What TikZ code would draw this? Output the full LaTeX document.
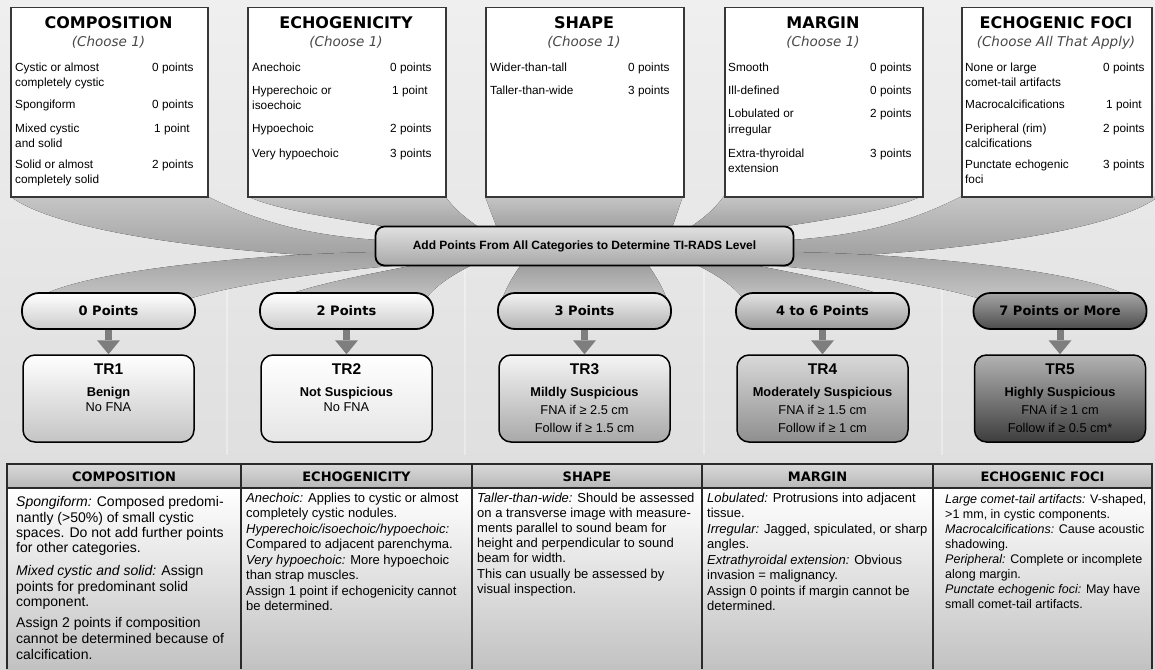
\documentclass[tikz,border=0pt]{standalone}
\usepackage{fontspec}
\setmainfont{Liberation Sans}
\newfontfamily\dvs{DejaVu Sans}
\usetikzlibrary{arrows.meta}
\definecolor{bgA}{HTML}{EFEFEF}
\definecolor{bgB}{HTML}{D8D8D8}
\definecolor{bandA}{HTML}{C6C6C6}
\definecolor{bandB}{HTML}{A0A0A0}
\definecolor{arrg}{HTML}{7E7E7E}
\definecolor{chzc}{HTML}{484848}
\definecolor{lineC}{HTML}{2A2A2A}
\begin{document}
\begin{tikzpicture}[x=1pt,y=-1pt,
  topbox/.style={draw=black!78, line width=1.5pt, fill=white, anchor=north west, inner sep=0, minimum height=189pt},
  ttl/.style={font=\dvs\bfseries\fontsize{16}{18}\selectfont, anchor=base, inner sep=0},
  chz/.style={font=\dvs\itshape\fontsize{13.5}{16}\selectfont, anchor=base, inner sep=0, text=chzc},
  row/.style={font=\fontsize{11.8}{14}\selectfont, anchor=base west, inner sep=0},
  topband/.style={top color=bandA, bottom color=bandB, draw=none},
  botband/.style={top color=bandB, bottom color=bandA, draw=none},
  pill/.style={draw=black, line width=1.8pt, rounded corners=17pt, minimum width=173pt, minimum height=36pt, inner sep=0, font=\dvs\bfseries\fontsize{13}{15}\selectfont},
  trbox/.style={draw=black, line width=1.5pt, rounded corners=12pt, minimum width=171pt, minimum height=87pt, inner sep=0},
  trt/.style={font=\bfseries\fontsize{15.5}{18}\selectfont, anchor=base, inner sep=0},
  trs/.style={font=\bfseries\fontsize{12.8}{15}\selectfont, anchor=base, inner sep=0},
  trn/.style={font=\fontsize{12.8}{15}\selectfont, anchor=base, inner sep=0},
  arr/.style={draw=arrg, line width=7pt, -{Triangle[width=23pt,length=14pt,line width=0pt]}},
  hdr/.style={font=\dvs\bfseries\fontsize{13}{15}\selectfont, anchor=base, inner sep=0},
  tA/.style={font=\fontsize{14}{16}\selectfont, anchor=base west, inner sep=0},
  tB/.style={font=\fontsize{13}{15}\selectfont, anchor=base west, inner sep=0},
  tC/.style={font=\fontsize{12.5}{15}\selectfont, anchor=base west, inner sep=0},
]
\useasboundingbox (0,0) rectangle (1155,669);
% background
\fill[top color=bgA, bottom color=bgB] (0,0) rectangle (1155,669);
\foreach \vx in {227,465,704,942}
  \draw[white, opacity=0.35, line width=1.2pt] (\vx,270) -- (\vx,455);

% bands from top boxes to middle box
\fill[topband] (10,196) -- (207,196) .. controls (265,226) and (320,236) .. (378,240) -- (378,258) .. controls (260,256) and (60,236) .. (10,196) -- cycle;
\fill[topband] (247,196) -- (445,196) .. controls (455,210) and (468,220) .. (480,228) -- (395,228) .. controls (345,220) and (275,210) .. (247,196) -- cycle;
\fill[topband] (485,196) -- (683,196) .. controls (678,210) and (675,220) .. (672,228) -- (497,228) .. controls (494,220) and (490,210) .. (485,196) -- cycle;
\fill[topband] (922,196) -- (724,196) .. controls (714,210) and (701,220) .. (689,228) -- (774,228) .. controls (824,220) and (894,210) .. (922,196) -- cycle;
\fill[topband] (1159,196) -- (962,196) .. controls (904,226) and (849,236) .. (791,240) -- (791,258) .. controls (909,256) and (1109,236) .. (1159,196) -- cycle;
% bands from middle box to pills
\fill[botband] (378,252) .. controls (250,254) and (70,272) .. (35,300) -- (185,300) .. controls (235,284) and (330,271) .. (392,266) -- cycle;
\fill[botband] (410,266) .. controls (360,276) and (305,286) .. (275,300) -- (425,300) .. controls (433,288) and (450,276) .. (470,266) -- cycle;
\fill[botband] (520,266) .. controls (512,278) and (505,290) .. (502,300) -- (667,300) .. controls (664,290) and (657,278) .. (649,266) -- cycle;
\fill[botband] (759,266) .. controls (809,276) and (864,286) .. (894,300) -- (744,300) .. controls (736,288) and (719,276) .. (699,266) -- cycle;
\fill[botband] (791,252) .. controls (919,254) and (1099,272) .. (1134,300) -- (984,300) .. controls (934,284) and (839,271) .. (777,266) -- cycle;

% top boxes
\node[topbox, minimum width=197pt] (b1) at (10,7) {};
\node[topbox, minimum width=198pt] (b2) at (247,7) {};
\node[topbox, minimum width=198pt] (b3) at (485,7) {};
\node[topbox, minimum width=198pt] (b4) at (724,7) {};
\node[topbox, minimum width=190pt] (b5) at (961,7) {};

\node[ttl] (h1) at (108.5,29) {COMPOSITION};
\node[chz] (c1) at (108.5,46) {(Choose 1)};
\node[ttl] (h2) at (346,29) {ECHOGENICITY};
\node[chz] (c2) at (346,46) {(Choose 1)};
\node[ttl] (h3) at (584,29) {SHAPE};
\node[chz] (c3) at (584,46) {(Choose 1)};
\node[ttl] (h4) at (823,29) {MARGIN};
\node[chz] (c4) at (823,46) {(Choose 1)};
\node[ttl] (h5) at (1056,29) {ECHOGENIC FOCI};
\node[chz] (c5) at (1056,46) {(Choose All That Apply)};

\node[row] (a1) at (15,71) {Cystic or almost};
\node[row] (a2) at (15,86) {completely cystic};
\node[row] (a3) at (15,108) {Spongiform};
\node[row] (a4) at (15,132) {Mixed cystic};
\node[row] (a5) at (15,147) {and solid};
\node[row] (a6) at (15,168) {Solid or almost};
\node[row] (a7) at (15,183) {completely solid};
\node[row] (ap1) at (152,71) {0 points};
\node[row] (ap2) at (152,108) {0 points};
\node[row] (ap3) at (154,132) {1 point};
\node[row] (ap4) at (152,168) {2 points};

\node[row] (e1) at (252,71) {Anechoic};
\node[row] (e2) at (252,94) {Hyperechoic or};
\node[row] (e3) at (252,109) {isoechoic};
\node[row] (e4) at (252,132) {Hypoechoic};
\node[row] (e5) at (252,157) {Very hypoechoic};
\node[row] (ep1) at (390,71) {0 points};
\node[row] (ep2) at (392,94) {1 point};
\node[row] (ep3) at (390,132) {2 points};
\node[row] (ep4) at (390,157) {3 points};

\node[row] (s1) at (490,71) {Wider-than-tall};
\node[row] (s2) at (490,94) {Taller-than-wide};
\node[row] (sp1) at (628,71) {0 points};
\node[row] (sp2) at (628,94) {3 points};

\node[row] (m1) at (728,71) {Smooth};
\node[row] (m2) at (728,94) {Ill-defined};
\node[row] (m3) at (728,117) {Lobulated or};
\node[row] (m4) at (728,133) {irregular};
\node[row] (m5) at (728,157) {Extra-thyroidal};
\node[row] (m6) at (728,172) {extension};
\node[row] (mp1) at (870,71) {0 points};
\node[row] (mp2) at (870,94) {0 points};
\node[row] (mp3) at (870,117) {2 points};
\node[row] (mp4) at (870,157) {3 points};

\node[row] (f1) at (965,71) {None or large};
\node[row] (f2) at (965,86) {comet-tail artifacts};
\node[row] (f3) at (965,108) {Macrocalcifications};
\node[row] (f4) at (965,132) {Peripheral (rim)};
\node[row] (f5) at (965,147) {calcifications};
\node[row] (f6) at (965,168) {Punctate echogenic};
\node[row] (f7) at (965,183) {foci};
\node[row] (fp1) at (1103,71) {0 points};
\node[row] (fp2) at (1106,108) {1 point};
\node[row] (fp3) at (1103,132) {2 points};
\node[row] (fp4) at (1103,168) {3 points};

% middle box
\node[draw=black, line width=1.8pt, rounded corners=9pt, minimum width=418pt, minimum height=39pt, inner sep=0,
      top color=white!88!black, bottom color=white!66!black, font=\bfseries\fontsize{12}{14}\selectfont] (mid) at (584.5,246) {Add Points From All Categories to Determine TI-RADS Level};

% pills
\node[pill, top color=white, bottom color=white!80!black] (p1) at (108.5,311) {0 Points};
\node[pill, top color=white, bottom color=white!80!black] (p2) at (346.5,311) {2 Points};
\node[pill, top color=white!95!black, bottom color=white!70!black] (p3) at (584.5,311) {3 Points};
\node[pill, top color=white!89!black, bottom color=white!60!black] (p4) at (822.5,311) {4 to 6 Points};
\node[pill, top color=white!65!black, bottom color=white!30!black] (p5) at (1060,311) {7 Points or More};

% TR boxes
\node[trbox, top color=white, bottom color=white!77!black] (t1) at (108.5,398.5) {};
\node[trbox, top color=white, bottom color=white!90!black] (t2) at (346.5,398.5) {};
\node[trbox, top color=white!96!black, bottom color=white!66!black] (t3) at (584.5,398.5) {};
\node[trbox, top color=white!85!black, bottom color=white!56!black] (t4) at (822.5,398.5) {};
\node[trbox, top color=white!70!black, bottom color=white!24!black] (t5) at (1060,398.5) {};

% arrows
\draw[arr] (p1.south) -- (t1.north);
\draw[arr] (p2.south) -- (t2.north);
\draw[arr] (p3.south) -- (t3.north);
\draw[arr] (p4.south) -- (t4.north);
\draw[arr] (p5.south) -- (t5.north);

\node[trt] (t1a) at (108.5,374.5) {TR1};
\node[trs] (t1b) at (108.5,396.5) {Benign};
\node[trn] (t1c) at (108.5,411) {No FNA};
\node[trt] (t2a) at (346.5,374.5) {TR2};
\node[trs] (t2b) at (346.5,396.5) {Not Suspicious};
\node[trn] (t2c) at (346.5,411) {No FNA};
\node[trt] (t3a) at (584.5,374.5) {TR3};
\node[trs] (t3b) at (584.5,396.5) {Mildly Suspicious};
\node[trn] (t3c) at (584.5,414.5) {FNA if ≥ 2.5 cm};
\node[trn] (t3d) at (584.5,432) {Follow if ≥ 1.5 cm};
\node[trt] (t4a) at (822.5,374.5) {TR4};
\node[trs] (t4b) at (822.5,396.5) {Moderately Suspicious};
\node[trn] (t4c) at (822.5,414.5) {FNA if ≥ 1.5 cm};
\node[trn] (t4d) at (822.5,432) {Follow if ≥ 1 cm};
\node[trt] (t5a) at (1060,374.5) {TR5};
\node[trs] (t5b) at (1060,396.5) {Highly Suspicious};
\node[trn] (t5c) at (1060,414.5) {FNA if ≥ 1 cm};
\node[trn] (t5d) at (1060,432) {Follow if ≥ 0.5 cm*};

% bottom table
\fill[top color=white!85!black, bottom color=white!72!black] (7,464) rectangle (1152,488);
\fill[top color=white, middle color=white!97!black, bottom color=white!76!black] (7,488) rectangle (1152,669);
\draw[lineC, line width=1.2pt] (7,488) -- (1152,488);
\draw[lineC, line width=1.6pt] (7,669) -- (7,464) -- (1152,464) -- (1152,669);
\foreach \dx in {241,472,702,933}
  \draw[lineC, line width=2.4pt] (\dx,464) -- (\dx,669);

\node[hdr] (g1) at (124,481) {COMPOSITION};
\node[hdr] (g2) at (356.5,481) {ECHOGENICITY};
\node[hdr] (g3) at (587,481) {SHAPE};
\node[hdr] (g4) at (817.5,481) {MARGIN};
\node[hdr] (g5) at (1042.5,481) {ECHOGENIC FOCI};

\node[tA] (k1) at (16,506.6) {\textit{Spongiform:} Composed predomi-};
\node[tA] (k2) at (16,522.6) {nantly (>50\%) of small cystic};
\node[tA] (k3) at (16,537.6) {spaces. Do not add further points};
\node[tA] (k4) at (16,552.6) {for other categories.};
\node[tA] (k5) at (16,575.6) {\textit{Mixed cystic and solid:} Assign};
\node[tA] (k6) at (16,591.6) {points for predominant solid};
\node[tA] (k7) at (16,606.6) {component.};
\node[tA] (k8) at (16,627.6) {Assign 2 points if composition};
\node[tA] (k9) at (16,643.6) {cannot be determined because of};
\node[tA] (k10) at (16,659.6) {calcification.};

\node[tB] (l1) at (246,502) {\textit{Anechoic:} Applies to cystic or almost};
\node[tB] (l2) at (246,517) {completely cystic nodules.};
\node[tB] (l3) at (246,533) {\textit{Hyperechoic/isoechoic/hypoechoic:}};
\node[tB] (l4) at (246,548) {Compared to adjacent parenchyma.};
\node[tB] (l5) at (246,564) {\textit{Very hypoechoic:} More hypoechoic};
\node[tB] (l6) at (246,579) {than strap muscles.};
\node[tB] (l7) at (246,595) {Assign 1 point if echogenicity cannot};
\node[tB] (l8) at (246,610) {be determined.};

\node[tB] (n1) at (477,502) {\textit{Taller-than-wide:} Should be assessed};
\node[tB] (n2) at (477,517) {on a transverse image with measure-};
\node[tB] (n3) at (477,532) {ments parallel to sound beam for};
\node[tB] (n4) at (477,547) {height and perpendicular to sound};
\node[tB] (n5) at (477,562) {beam for width.};
\node[tB] (n6) at (477,578) {This can usually be assessed by};
\node[tB] (n7) at (477,593) {visual inspection.};

\node[tB] (q1) at (707,502) {\textit{Lobulated:} Protrusions into adjacent};
\node[tB] (q2) at (707,517) {tissue.};
\node[tB] (q3) at (707,533) {\textit{Irregular:} Jagged, spiculated, or sharp};
\node[tB] (q4) at (707,548) {angles.};
\node[tB] (q5) at (707,564) {\textit{Extrathyroidal extension:} Obvious};
\node[tB] (q6) at (707,579) {invasion = malignancy.};
\node[tB] (q7) at (707,595) {Assign 0 points if margin cannot be};
\node[tB] (q8) at (707,610) {determined.};

\node[tC] (r1) at (945,503) {\textit{Large comet-tail artifacts:} V-shaped,};
\node[tC] (r2) at (945,518) {>1 mm, in cystic components.};
\node[tC] (r3) at (945,533) {\textit{Macrocalcifications:} Cause acoustic};
\node[tC] (r4) at (945,548) {shadowing.};
\node[tC] (r5) at (945,563) {\textit{Peripheral:} Complete or incomplete};
\node[tC] (r6) at (945,578) {along margin.};
\node[tC] (r7) at (945,593) {\textit{Punctate echogenic foci:} May have};
\node[tC] (r8) at (945,608) {small comet-tail artifacts.};
\end{tikzpicture}
\end{document}
